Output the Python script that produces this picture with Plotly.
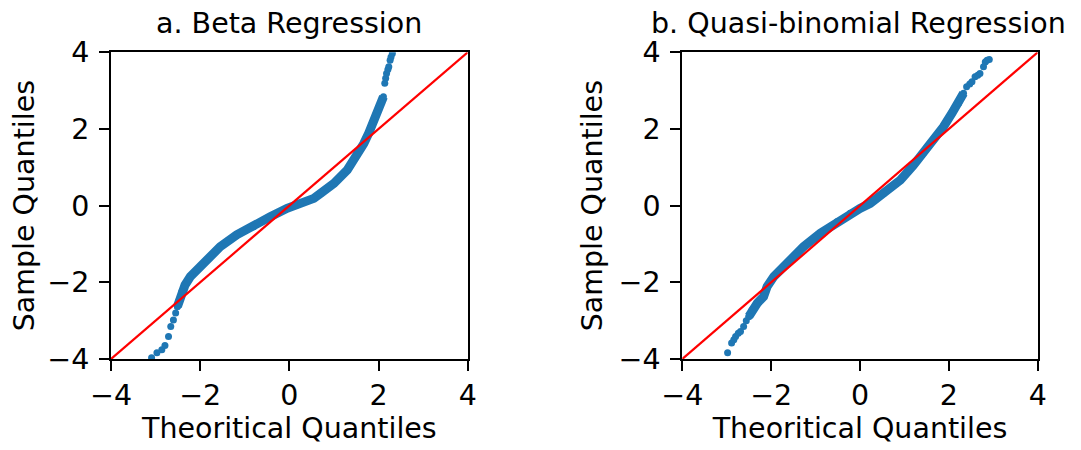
import plotly.graph_objects as go

# Panel a: Beta Regression (theoretical, sample quantiles)
beta_tail_lo_x = [-3.09, -2.97, -2.86, -2.79, -2.71, -2.66, -2.60, -2.55, -2.51]
beta_tail_lo_y = [-3.97, -3.84, -3.76, -3.65, -3.41, -3.15, -2.98, -2.80, -2.63]
beta_body_x = [-2.51, -2.47, -2.41, -2.34, -2.22, -2.07, -1.85, -1.55, -1.18, -0.80, -0.43, -0.05,
               0.25, 0.55, 0.70, 1.00, 1.30, 1.52, 1.67, 1.78, 1.89, 2.01, 2.11]
beta_body_y = [-2.63, -2.46, -2.24, -2.07, -1.85, -1.67, -1.41, -1.07, -0.76, -0.55, -0.29, -0.07,
               0.06, 0.19, 0.32, 0.58, 0.93, 1.32, 1.62, 1.89, 2.23, 2.58, 2.84]
beta_tail_hi_x = [2.14, 2.16, 2.18, 2.21, 2.23, 2.26, 2.28, 2.31]
beta_tail_hi_y = [3.19, 3.32, 3.45, 3.55, 3.62, 3.79, 3.88, 3.97]

# Panel b: Quasi-binomial Regression
qb_tail_lo_x = [-2.98, -2.89, -2.84, -2.80, -2.74, -2.69, -2.62, -2.56, -2.50]
qb_tail_lo_y = [-3.84, -3.58, -3.50, -3.41, -3.33, -3.28, -3.15, -3.00, -2.89]
qb_body_x = [-2.50, -2.43, -2.31, -2.17, -2.09, -1.94, -1.64, -1.27, -0.89, -0.52, -0.22, 0.00,
             0.23, 0.53, 0.91, 1.20, 1.43, 1.65, 1.88, 2.07, 2.22, 2.33]
qb_body_y = [-2.89, -2.72, -2.54, -2.37, -2.11, -1.85, -1.50, -1.07, -0.72, -0.42, -0.20, -0.07,
             0.06, 0.32, 0.67, 1.05, 1.38, 1.71, 2.06, 2.41, 2.67, 2.93]
qb_tail_hi_x = [2.40, 2.47, 2.52, 2.59, 2.65, 2.70, 2.78, 2.82, 2.86, 2.91]
qb_tail_hi_y = [3.10, 3.17, 3.23, 3.36, 3.40, 3.45, 3.62, 3.75, 3.79, 3.81]

ref_line = [-4, 4]
ticks = [-4, -2, 0, 2, 4]

BLUE = "#1f77b4"
FONT = "DejaVu Sans, Liberation Sans, Arial, sans-serif"
FS = 28.5

fig = go.Figure()

def add_panel(xa, ya, lo_x, lo_y, body_x, body_y, hi_x, hi_y):
    fig.add_trace(go.Scatter(x=body_x, y=body_y, mode="lines+markers",
                             line=dict(color=BLUE, width=9),
                             marker=dict(color=BLUE, size=7),
                             xaxis=xa, yaxis=ya, showlegend=False))
    fig.add_trace(go.Scatter(x=lo_x + hi_x, y=lo_y + hi_y, mode="markers",
                             marker=dict(color=BLUE, size=7),
                             xaxis=xa, yaxis=ya, showlegend=False))
    fig.add_trace(go.Scatter(x=ref_line, y=ref_line, mode="lines",
                             line=dict(color="red", width=2.2),
                             xaxis=xa, yaxis=ya, showlegend=False))

add_panel("x", "y", beta_tail_lo_x, beta_tail_lo_y, beta_body_x, beta_body_y,
          beta_tail_hi_x, beta_tail_hi_y)
add_panel("x2", "y2", qb_tail_lo_x, qb_tail_lo_y, qb_body_x, qb_body_y,
          qb_tail_hi_x, qb_tail_hi_y)

axis_common = dict(range=[-4, 4], tickvals=ticks, showgrid=False, zeroline=False,
                   showline=True, linecolor="black", linewidth=2, mirror=True,
                   ticks="outside", ticklen=10, tickwidth=2, tickcolor="black",
                   automargin=False,
                   tickfont=dict(family=FONT, size=FS, color="black"))

# page has an 8px body margin, so the figure is sized to fit inside the window
OFF = 8
W, H = 1081 - OFF, 450 - OFF

def fx(px):
    return (px - OFF) / W

def fy(py):
    return 1 - (py - OFF) / H

xt = dict(text="Theoritical Quantiles", font=dict(family=FONT, size=FS, color="black"))
yt = dict(text="Sample Quantiles", font=dict(family=FONT, size=FS, color="black"))
ydom = [fy(359), fy(52.3)]
fig.update_layout(
    width=W, height=H,
    margin=dict(l=0, r=0, t=0, b=0),
    paper_bgcolor="white", plot_bgcolor="white",
    xaxis=dict(domain=[fx(111), fx(467.7)], anchor="y", title=dict(standoff=4, **xt),
               ticklabelstandoff=0, **axis_common),
    yaxis=dict(domain=ydom, anchor="x", title=dict(standoff=8, **yt),
               ticklabelstandoff=4, **axis_common),
    xaxis2=dict(domain=[fx(682.3), fx(1037.7)], anchor="y2", title=dict(standoff=4, **xt),
                ticklabelstandoff=0, **axis_common),
    yaxis2=dict(domain=ydom, anchor="x2", title=dict(standoff=8, **yt),
                ticklabelstandoff=4, **axis_common),
    annotations=[
        dict(text="a. Beta Regression", x=fx(289.3), y=fy(24), xref="paper", yref="paper",
             xanchor="center", yanchor="middle", showarrow=False,
             font=dict(family=FONT, size=FS, color="black")),
        dict(text="b. Quasi-binomial Regression", x=fx(858), y=fy(24), xref="paper", yref="paper",
             xanchor="center", yanchor="middle", showarrow=False,
             font=dict(family=FONT, size=FS, color="black")),
    ],
)

fig.write_html("out.html")
